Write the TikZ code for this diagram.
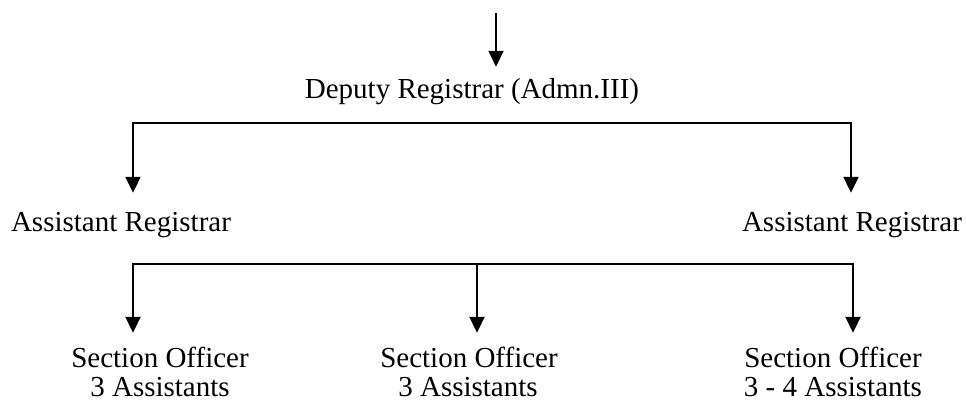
\documentclass[tikz,border=0pt]{standalone}
\usepackage{fontspec}
\setmainfont{Liberation Serif}
\usetikzlibrary{arrows.meta}
\begin{document}
\begin{tikzpicture}[x=1pt,y=-1pt,
  lbl/.style={anchor=base,inner xsep=0pt,text height=19pt,text depth=2pt,
    font=\fontsize{29}{34}\selectfont},
  lvl1/.style={lbl,inner ysep=12pt},
  lvl2/.style={lbl,inner ysep=19pt},
  lvl3/.style={lbl,inner ysep=15pt},
  sub/.style={lbl,inner ysep=0pt,text depth=0pt},
  tip/.tip={Triangle[length=16pt,width=15pt]},
  conn/.style={line width=2pt,line join=miter},
  arr/.style={conn,-tip},
  both/.style={conn,tip-tip}]
\useasboundingbox (0,0) rectangle (967,400);
% texts
\node[lvl1] (dep) at (472,98) {Deputy Registrar (Admn.III)};
\node[lvl2] (arL) at (121,231) {Assistant Registrar};
\node[lvl2] (arR) at (852,231) {Assistant Registrar};
\node[lvl3] (so1) at (160,367) {Section Officer};
\node[sub] (so1b) at (160,396) {3 Assistants};
\node[lvl3] (so2) at (469,367) {Section Officer};
\node[sub] (so2b) at (468,396) {3 Assistants};
\node[lvl3] (so3) at (833,367) {Section Officer};
\node[sub] (so3b) at (833,396) {3 - 4 Assistants};
% connectors
\coordinate (top) at (496,13);
\draw[arr,line width=1.6pt] (top) -- (top |- dep.north);
\coordinate (b1L) at (133,123);
\coordinate (b1R) at (851,123);
\draw[both] (b1L |- arL.north) -- (b1L) -- (b1R) -- (b1R |- arR.north);
\coordinate (b2L) at (133,264);
\coordinate (b2M) at (477,264);
\coordinate (b2R) at (853,264);
\draw[both] (b2L |- so1.north) -- (b2L) -- (b2R) -- (b2R |- so3.north);
\draw[arr] (b2M) -- (b2M |- so2.north);
\end{tikzpicture}
\end{document}
